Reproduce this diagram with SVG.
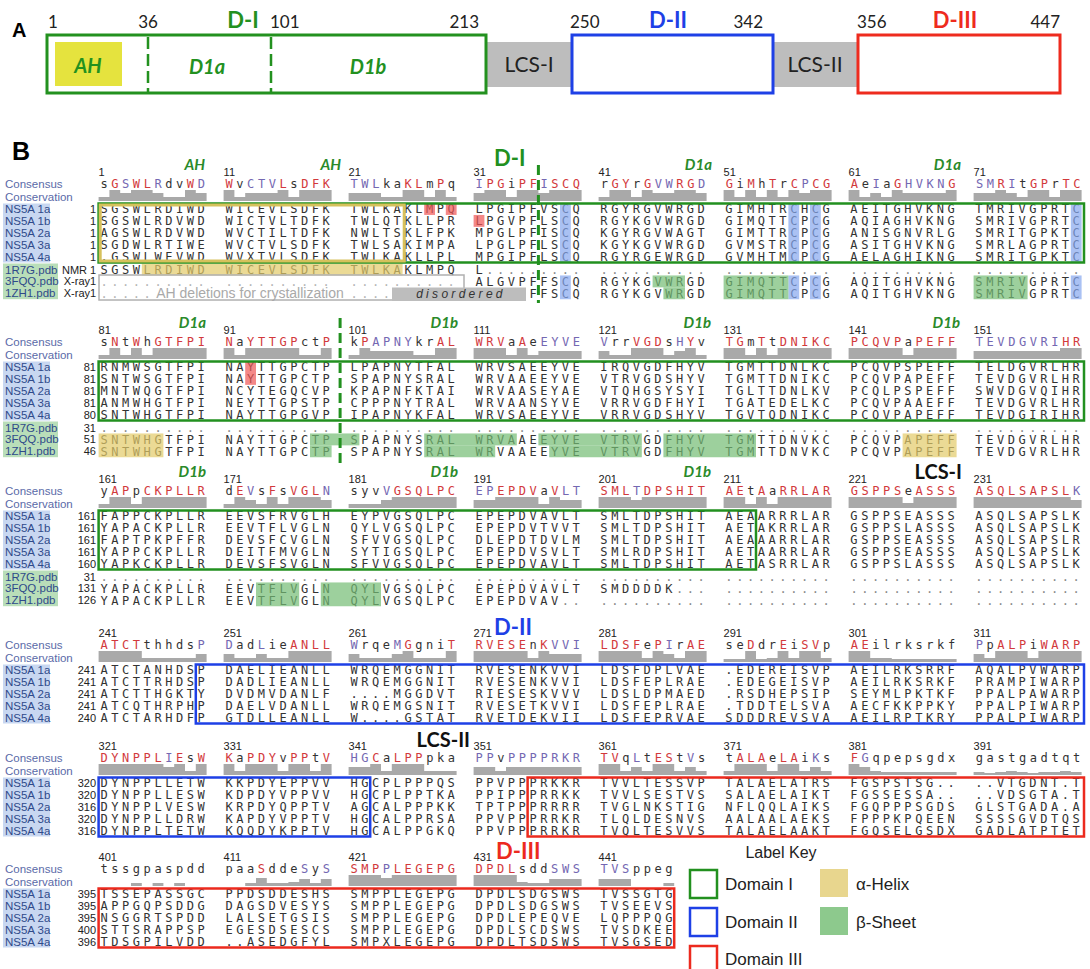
<svg xmlns="http://www.w3.org/2000/svg" width="1090" height="969" viewBox="0 0 1090 969">
<defs><style>
.s{font-family:"DejaVu Sans Mono","Liberation Mono",monospace;font-size:12px;letter-spacing:3.575px;word-spacing:6.2px;fill:#333}
.r{fill:#d2393c}.p{fill:#7468b2}.d{fill:#8a8a8a}.dl{fill:#b5b5b5}
.lab{font-family:"Liberation Sans",Arial,sans-serif;font-size:11.5px;fill:#2f4a8a}
.cl{font-family:"Liberation Sans",Arial,sans-serif;font-size:11.5px;fill:#5a6aa8}
.n{font-family:"Liberation Sans",Arial,sans-serif;font-size:11px;fill:#222}
.rn{font-family:"Liberation Sans",Arial,sans-serif;font-size:11px;fill:#222;text-anchor:end}
.bar{fill:#a9a9a9}
.lb{fill:#c8d7f1}.pg{fill:#b9deb9}
.it{font-family:Lato,"Liberation Sans",sans-serif;font-weight:bold;font-style:italic;font-size:15px;fill:#2a8a2a;text-anchor:end}
.big{font-family:Lato,"Liberation Sans",sans-serif;font-weight:bold;font-size:22px}
.lcs{font-family:Lato,"Liberation Sans",sans-serif;font-weight:bold;font-size:20px;fill:#111;text-anchor:end}
.hy{fill:#e2ca68;opacity:.7}.hg{fill:#74bc74;opacity:.7}.hb{fill:#86a6ee;opacity:.7}.hr{fill:#f05555;opacity:.7}
.bg{fill:none;stroke:#22901f;stroke-width:2.5}.bb{fill:none;stroke:#1e40e6;stroke-width:2.5}.br{fill:none;stroke:#ec2a1e;stroke-width:2.5}
.dash{stroke:#22901f;stroke-width:3;stroke-dasharray:10 5}
.pa{font-family:Lato,"Liberation Sans",sans-serif}
.key{font-family:"Liberation Sans",Arial,sans-serif;fill:#222}
</style></defs>
<rect width="1090" height="969" fill="#fff"/>

<g id="panelA" class="pa">
<text x="12" y="37" font-family="Liberation Sans" font-weight="bold" font-size="20">A</text>
<rect x="487" y="42" width="85" height="45" fill="#bdbdbd"/>
<rect x="773" y="42" width="85" height="45" fill="#bdbdbd"/>
<rect x="55" y="42" width="67" height="44" fill="#e5e33e"/>
<rect x="47" y="35" width="439" height="58" fill="none" stroke="#23911f" stroke-width="3"/>
<rect x="572" y="35" width="201" height="58" fill="none" stroke="#1e40e6" stroke-width="3"/>
<rect x="858" y="35" width="202" height="58" fill="none" stroke="#ee2b1e" stroke-width="3"/>
<line x1="148" y1="37" x2="148" y2="92" stroke="#23911f" stroke-width="2.5" stroke-dasharray="12 5"/>
<line x1="271" y1="37" x2="271" y2="92" stroke="#23911f" stroke-width="2.5" stroke-dasharray="12 5"/>
<g font-size="17" fill="#222">
<text x="48" y="28">1</text><text x="148" y="28" text-anchor="middle">36</text><text x="270" y="28">101</text><text x="479" y="28" text-anchor="end">213</text><text x="570" y="28">250</text><text x="763" y="28" text-anchor="end">342</text><text x="857" y="28">356</text><text x="1060" y="28" text-anchor="end">447</text>
</g>
<g font-weight="bold" font-size="22" text-anchor="middle">
<text x="243" y="28" fill="#23911f">D-I</text><text x="668" y="28" fill="#1e40e6">D-II</text><text x="955" y="28" fill="#ee2b1e">D-III</text>
</g>
<g font-weight="bold" font-style="italic" font-size="20" fill="#23911f" text-anchor="middle">
<text x="88" y="73">AH</text><text x="207" y="74">D1a</text><text x="368" y="74">D1b</text>
</g>
<g font-size="21" fill="#222" text-anchor="middle">
<text x="529" y="72">LCS-I</text><text x="815" y="72">LCS-II</text>
</g>
</g>

<text x="12" y="160" font-family="Liberation Sans" font-weight="bold" font-size="25">B</text>

<g id="block1" transform="translate(0,184)">
<text class="n" y="-8"><tspan x="98.6">1</tspan><tspan x="223.6">11</tspan><tspan x="348.6">21</tspan><tspan x="473.6">31</tspan><tspan x="598.6">41</tspan><tspan x="723.6">51</tspan><tspan x="848.6">61</tspan><tspan x="973.6">71</tspan></text>
<text class="it" x="205" y="-14">AH</text><text class="it" x="341" y="-14">AH</text><text class="it" x="712" y="-14">D1a</text><text class="it" x="961" y="-14">D1a</text>
<text class="big" x="494" y="-18" fill="#22901f">D-I</text>
<text class="cl" x="5" y="4">Consensus</text><text class="cl" x="5" y="17">Conservation</text>
<text class="s" x="100.4" y="4.3">s<tspan class="r">G</tspan><tspan class="p">S</tspan><tspan class="r">WL</tspan><tspan class="p">R</tspan>dv<tspan class="r">W</tspan><tspan class="p">D</tspan> <tspan class="r">W</tspan>v<tspan class="p">CTV</tspan><tspan class="r">L</tspan>s<tspan class="r">DFK</tspan> <tspan class="p">TWL</tspan>ka<tspan class="r">KL</tspan>m<tspan class="r">P</tspan>q <tspan class="p">I</tspan><tspan class="r">PG</tspan>i<tspan class="r">PF</tspan><tspan class="p">I</tspan><tspan class="r">SCQ</tspan> r<tspan class="r">GY</tspan>r<tspan class="r">G</tspan><tspan class="p">VW</tspan><tspan class="r">RG</tspan><tspan class="p">D</tspan> <tspan class="r">G</tspan>i<tspan class="r">M</tspan>h<tspan class="r">T</tspan>r<tspan class="r">C</tspan><tspan class="p">P</tspan><tspan class="r">CG</tspan> <tspan class="r">A</tspan>e<tspan class="p">I</tspan>a<tspan class="r">G</tspan><tspan class="p">HVKN</tspan><tspan class="r">G</tspan> <tspan class="p">SM</tspan><tspan class="r">R</tspan><tspan class="p">I</tspan>t<tspan class="r">GP</tspan>r<tspan class="r">TC</tspan></text>
<g class="bar" transform="translate(0,17)">
<path transform="translate(98.6) scale(10.8,1)" d="M0 0V-4H1V-11H2V-8H3V-11H4V-11H5V-8H6V-4H7V-4H8V-11H9V-8H10V0Z"/>
<path transform="translate(223.6) scale(10.8,1)" d="M0 0V-11H1V-4H2V-8H3V-8H4V-8H5V-11H6V-4H7V-11H8V-11H9V-11H10V0Z"/>
<path transform="translate(348.6) scale(10.8,1)" d="M0 0V-8H1V-8H2V-8H3V-4H4V-4H5V-11H6V-11H7V-4H8V-11H9V-4H10V0Z"/>
<path transform="translate(473.6) scale(10.8,1)" d="M0 0V-8H1V-11H2V-11H3V-4H4V-11H5V-11H6V-8H7V-11H8V-11H9V-11H10V0Z"/>
<path transform="translate(598.6) scale(10.8,1)" d="M0 0V-4H1V-11H2V-11H3V-4H4V-11H5V-8H6V-8H7V-11H8V-11H9V-8H10V0Z"/>
<path transform="translate(723.6) scale(10.8,1)" d="M0 0V-11H1V-4H2V-11H3V-4H4V-11H5V-4H6V-11H7V-8H8V-11H9V-11H10V0Z"/>
<path transform="translate(848.6) scale(10.8,1)" d="M0 0V-11H1V-4H2V-8H3V-4H4V-11H5V-8H6V-8H7V-8H8V-8H9V-11H10V0Z"/>
<path transform="translate(973.6) scale(10.8,1)" d="M0 0V-8H1V-8H2V-11H3V-8H4V-4H5V-11H6V-11H7V-4H8V-11H9V-11H10V0Z"/>
</g>
<rect class="lb" x="3" y="19.5" width="47" height="59"/><rect class="pg" x="3" y="79.5" width="55" height="35.7"/>
<g class="lab"><text x="5" y="29">NS5A 1a</text><text x="5" y="40.9">NS5A 1b</text><text x="5" y="52.8">NS5A 2a</text><text x="5" y="64.7">NS5A 3a</text><text x="5" y="76.6">NS5A 4a</text><text x="5" y="89.5">1R7G.pdb</text><text x="5" y="101.4">3FQQ.pdb</text><text x="5" y="113.3">1ZH1.pdb</text></g>
<g class="rn"><text x="96" y="29">1</text><text x="96" y="40.9">1</text><text x="96" y="52.8">1</text><text x="96" y="64.7">1</text><text x="96" y="76.6">1</text><text x="96" y="89.5">1</text><text x="96" y="101.4">1</text><text x="96" y="113.3">1</text><text x="87" y="89.5">NMR</text><text x="90" y="101.4">X-ray</text><text x="90" y="113.3">X-ray</text></g>
<text class="s" x="100.4" y="29.3">SGSWLRDIWD WICEVLSDFK TWLKAKLMPQ LPGIPFVSCQ RGYRGVWRGD GIMHTRCHCG AEITGHVKNG TMRIVGPRTC</text>
<text class="s" x="100.4" y="41.2">SGSWLRDVWD WICTVLTDFK TWLQTKLLPR LPGVPFLSCQ RGYKGVWRGD GIMQTTCPCG AQIAGHVKNG SMRIVGPRTC</text>
<text class="s" x="100.4" y="53.1">AGSWLRDVWD WVCTILTDFK NWLTSKLFPK MPGLPFISCQ KGYRGVWAGT GIMTTRCPCG ANISGNVRLG SMRITGPKTC</text>
<text class="s" x="100.4" y="65">SGDWLRTIWE WVCTVLSDFK TWLSAKIMPA LPGLPFLSCQ KGYKGVWRGD GVMSTRCPCG ASITGHVKNG SMRLAGPRTC</text>
<text class="s" x="100.4" y="76.9">.GSWLWEVWD WVXTVLSDFK TWLKAKLLPL MPGIPFLSCQ RGYRGEWRGD GVMHTMCPCG AELAGHIKNG SMRITGPKTC</text>
<text class="s" x="100.4" y="89.8">SGSWLRDIWD WICEVLSDFK TWLKAKLMPQ L<tspan class="d">......... .......... .......... .......... ..........</tspan></text>
<text class="s" x="100.4" y="101.7"><tspan class="dl">.......... .......... ..........</tspan> ALGVPFFSCQ RGYKGVWRGD GIMQTTCPCG AQITGHVKNG SMRIVGPRTC</text>
<text class="s dl" x="100.4" y="113.6">.....</text><text class="s dl" x="350.4" y="113.6">....</text>
<text class="s" x="529.4" y="113.6">FFSCQ RGYKGVWRGD GIMQTTCPCG AQITGHVKNG SMRIVGPRTC</text>
<g id="hl1">
<rect class="hr" x="424.2" y="19.05" width="10.8" height="11.9"/><rect class="hr" x="445.8" y="19.05" width="10.8" height="11.9"/><rect class="hr" x="473.6" y="30.95" width="10.8" height="11.9"/>
<rect class="hb" x="560" y="19.05" width="10.8" height="59.5"/><rect class="hb" x="788.4" y="19.05" width="10.8" height="59.5"/><rect class="hb" x="810" y="19.05" width="10.8" height="59.5"/><rect class="hb" x="1070.8" y="19.05" width="10.8" height="59.5"/>
<rect class="hb" x="560" y="91.45" width="10.8" height="23.8"/><rect class="hb" x="788.4" y="91.45" width="10.8" height="23.8"/><rect class="hb" x="810" y="91.45" width="10.8" height="23.8"/><rect class="hb" x="1070.8" y="91.45" width="10.8" height="23.8"/>
<rect class="hy" x="141.8" y="79.55" width="260.8" height="11.9"/>
<rect class="hg" x="652.6" y="91.45" width="32.4" height="11.9"/><rect class="hg" x="663.4" y="103.35" width="21.6" height="11.9"/>
<rect class="hg" x="723.6" y="91.45" width="64.8" height="23.8"/><rect class="hg" x="973.6" y="91.45" width="54" height="23.8"/>
</g>
<rect x="99" y="91" width="365" height="25" fill="none" stroke="#b0b0b0" stroke-width="1.5"/>
<text x="250" y="114" text-anchor="middle" font-family="Liberation Sans" font-size="14" fill="#a9a9a9">AH deletions for crystallization</text>
<rect x="392" y="103.5" width="134" height="13.5" fill="#bdbdbd"/>
<text x="461" y="114" text-anchor="middle" font-family="Liberation Sans" font-style="italic" font-size="12" letter-spacing="3.3" fill="#333">disordered</text>
<rect class="bg" x="98.6" y="19.5" width="985.4" height="59"/>
<rect x="100.2" y="21" width="304" height="56" fill="none" stroke="#d6c15c" stroke-width="3"/>
<line class="dash" x1="538.4" y1="-19" x2="538.4" y2="119"/>
</g>

<g id="block2" transform="translate(0,342)">
<text class="n" y="-8"><tspan x="98.6">81</tspan><tspan x="223.6">91</tspan><tspan x="348.6">101</tspan><tspan x="473.6">111</tspan><tspan x="598.6">121</tspan><tspan x="723.6">131</tspan><tspan x="848.6">141</tspan><tspan x="973.6">151</tspan></text>
<text class="it" x="206" y="-14">D1a</text><text class="it" x="458" y="-14">D1b</text><text class="it" x="711" y="-14">D1b</text><text class="it" x="960" y="-14">D1b</text>
<text class="cl" x="5" y="4">Consensus</text><text class="cl" x="5" y="17">Conservation</text>
<text class="s" x="100.4" y="4.3">s<tspan class="r">N</tspan>t<tspan class="r">W</tspan>h<tspan class="r">GTFPI</tspan> <tspan class="r">N</tspan>a<tspan class="r">YTTGP</tspan>ct<tspan class="r">P</tspan> k<tspan class="r">P</tspan><tspan class="p">APNY</tspan>kr<tspan class="r">AL</tspan> <tspan class="r">WRV</tspan>a<tspan class="r">A</tspan>e<tspan class="p">EYVE</tspan> <tspan class="p">V</tspan>rr<tspan class="r">VGD</tspan>s<tspan class="p">H</tspan><tspan class="r">Y</tspan>v <tspan class="r">TG</tspan>m<tspan class="r">T</tspan>t<tspan class="r">DNIKC</tspan> <tspan class="r">PCQVP</tspan>a<tspan class="r">PEFF</tspan> <tspan class="p">TEVDGVRI</tspan><tspan class="r">HR</tspan></text>
<g class="bar" transform="translate(0,17)">
<path transform="translate(98.6) scale(10.8,1)" d="M0 0V-4H1V-11H2V-4H3V-11H4V-4H5V-11H10V0Z"/>
<path transform="translate(223.6) scale(10.8,1)" d="M0 0V-11H1V-4H2V-11H7V-4H9V-11H10V0Z"/>
<path transform="translate(348.6) scale(10.8,1)" d="M0 0V-4H1V-11H2V-8H6V-4H8V-11H10V0Z"/>
<path transform="translate(473.6) scale(10.8,1)" d="M0 0V-11H3V-4H4V-11H5V-4H6V-8H10V0Z"/>
<path transform="translate(598.6) scale(10.8,1)" d="M0 0V-8H1V-4H3V-11H6V-4H7V-8H8V-11H9V-4H10V0Z"/>
<path transform="translate(723.6) scale(10.8,1)" d="M0 0V-11H2V-4H3V-11H4V-4H5V-11H10V0Z"/>
<path transform="translate(848.6) scale(10.8,1)" d="M0 0V-11H5V-4H6V-11H10V0Z"/>
<path transform="translate(973.6) scale(10.8,1)" d="M0 0V-8H8V-11H10V0Z"/>
</g>
<rect class="lb" x="3" y="19.5" width="47" height="59"/><rect class="pg" x="3" y="79.5" width="55" height="35.7"/>
<g class="lab"><text x="5" y="29">NS5A 1a</text><text x="5" y="40.9">NS5A 1b</text><text x="5" y="52.8">NS5A 2a</text><text x="5" y="64.7">NS5A 3a</text><text x="5" y="76.6">NS5A 4a</text><text x="5" y="89.5">1R7G.pdb</text><text x="5" y="101.4">3FQQ.pdb</text><text x="5" y="113.3">1ZH1.pdb</text></g>
<g class="rn"><text x="96" y="29">81</text><text x="96" y="40.9">81</text><text x="96" y="52.8">81</text><text x="96" y="64.7">81</text><text x="96" y="76.6">80</text><text x="96" y="89.5">31</text><text x="96" y="101.4">51</text><text x="96" y="113.3">46</text></g>
<text class="s" x="100.4" y="29.3">RNMWSGTFPI NAYTTGPCTP LPAPNYTFAL WRVSAEEYVE IRQVGDFHYV TGMTTDNLKC PCQVPSPEFF TELDGVRLHR</text>
<text class="s" x="100.4" y="41.2">SNTWSGTFPI NAYTTGPCTP SPAPNYSRAL WRVAAEEYVE VTRVGDSHYV TGMTTDNIKC PCQVPAPEFF TEVDGVRLHR</text>
<text class="s" x="100.4" y="53.1">MNTWQGTFPI NCYTEGQCVP KPAPNFKTAI WRVAASEYAE VTQHGSYSYI TGLTTDNLKV PCQLPSPEFF SWVDGVQIHR</text>
<text class="s" x="100.4" y="65">ANMWHGTFPI NEYTTGPSTP CPPPNYTRAL WRVAANSYVE VRRVGDFHYI TGATEDELKC PCQVPAAEFF TEVDGVRLHR</text>
<text class="s" x="100.4" y="76.9">SNTWHGTFPI NAYTTGPGVP IPAPNYKFAL WRVSAEEYVE VRRVGDSHYV TGVTQDNIKC PCQVPAPEFF TEVDGIRIHR</text>
<text class="s d" x="100.4" y="89.8">.......... .......... .......... .......... .......... .......... .......... ..........</text>
<text class="s" x="100.4" y="101.7">SNTWHGTFPI NAYTTGPCTP SPAPNYSRAL WRVAAEEYVE VTRVGDFHYV TGMTTDNVKC PCQVPAPEFF TEVDGVRLHR</text>
<text class="s" x="100.4" y="113.6">SNTWHGTFPI NAYTTGPCTP SPAPNYSRAL WRVAAEEYVE VTRVGDFHYV TGMTTDNVKC PCQVPAPEFF TEVDGVRLHR</text>
<g id="hl2">
<rect class="hr" x="245.2" y="19.05" width="10.8" height="23.8"/>
<rect class="hy" x="98.6" y="91.45" width="64.8" height="23.8"/><rect class="hy" x="902.6" y="91.45" width="54" height="23.8"/>
<rect class="hg" x="310" y="91.45" width="49.4" height="11.9"/><rect class="hg" x="424.2" y="91.45" width="92.6" height="11.9"/><rect class="hg" x="538.4" y="91.45" width="103.4" height="11.9"/>
<rect class="hg" x="310" y="103.35" width="21.6" height="11.9"/><rect class="hg" x="424.2" y="103.35" width="71" height="11.9"/><rect class="hg" x="549.2" y="103.35" width="92.6" height="11.9"/>
<rect class="hg" x="663.4" y="91.45" width="92.6" height="23.8"/>
</g>
<rect class="bg" x="98.6" y="19.5" width="985.4" height="59"/>
<line class="dash" x1="340.1" y1="-24" x2="340.1" y2="126"/>
</g>

<g id="block3" transform="translate(0,491)">
<text class="n" y="-8"><tspan x="98.6">161</tspan><tspan x="223.6">171</tspan><tspan x="348.6">181</tspan><tspan x="473.6">191</tspan><tspan x="598.6">201</tspan><tspan x="723.6">211</tspan><tspan x="848.6">221</tspan><tspan x="973.6">231</tspan></text>
<text class="it" x="206" y="-14">D1b</text><text class="it" x="458" y="-14">D1b</text><text class="it" x="711" y="-14">D1b</text>
<text class="lcs" x="962" y="-12">LCS-I</text>
<text class="cl" x="5" y="4">Consensus</text><text class="cl" x="5" y="17">Conservation</text>
<text class="s" x="100.4" y="4.3">y<tspan class="r">AP</tspan>p<tspan class="r">CKPLLR</tspan> d<tspan class="r">E</tspan><tspan class="p">V</tspan>s<tspan class="r">F</tspan>s<tspan class="r">VGL</tspan><tspan class="p">N</tspan> syv<tspan class="p">V</tspan><tspan class="r">GSQLPC</tspan> <tspan class="p">EP</tspan><tspan class="r">EPDV</tspan>a<tspan class="r">V</tspan><tspan class="p">LT</tspan> <tspan class="r">SML</tspan><tspan class="p">T</tspan><tspan class="r">DPSHIT</tspan> <tspan class="r">AE</tspan>t<tspan class="r">A</tspan>a<tspan class="r">RRLAR</tspan> <tspan class="r">GSPPS</tspan>e<tspan class="r">ASSS</tspan> <tspan class="r">ASQLSAPSL</tspan><tspan class="p">K</tspan></text>
<g class="bar" transform="translate(0,17)">
<path transform="translate(98.6) scale(10.8,1)" d="M0 0V-4H1V-11H3V-4H4V-11H10V0Z"/>
<path transform="translate(223.6) scale(10.8,1)" d="M0 0V-4H1V-11H2V-8H3V-4H4V-11H5V-4H6V-11H9V-8H10V0Z"/>
<path transform="translate(348.6) scale(10.8,1)" d="M0 0V-4H3V-8H4V-11H10V0Z"/>
<path transform="translate(473.6) scale(10.8,1)" d="M0 0V-8H2V-11H6V-4H7V-11H8V-8H10V0Z"/>
<path transform="translate(598.6) scale(10.8,1)" d="M0 0V-11H3V-8H4V-11H10V0Z"/>
<path transform="translate(723.6) scale(10.8,1)" d="M0 0V-11H2V-4H3V-11H4V-4H5V-11H10V0Z"/>
<path transform="translate(848.6) scale(10.8,1)" d="M0 0V-11H5V-5H6V-11H10V0Z"/>
<path transform="translate(973.6) scale(10.8,1)" d="M0 0V-11H9V-8H10V0Z"/>
</g>
<rect class="lb" x="3" y="19.5" width="47" height="59"/><rect class="pg" x="3" y="79.5" width="55" height="35.7"/>
<g class="lab"><text x="5" y="29">NS5A 1a</text><text x="5" y="40.9">NS5A 1b</text><text x="5" y="52.8">NS5A 2a</text><text x="5" y="64.7">NS5A 3a</text><text x="5" y="76.6">NS5A 4a</text><text x="5" y="89.5">1R7G.pdb</text><text x="5" y="101.4">3FQQ.pdb</text><text x="5" y="113.3">1ZH1.pdb</text></g>
<g class="rn"><text x="96" y="29">161</text><text x="96" y="40.9">161</text><text x="96" y="52.8">161</text><text x="96" y="64.7">161</text><text x="96" y="76.6">160</text><text x="96" y="89.5">31</text><text x="96" y="101.4">131</text><text x="96" y="113.3">126</text></g>
<text class="s" x="100.4" y="29.3">FAPPCKPLLR EEVSFRVGLH EYPVGSQLPC EPEPDVAVLT SMLTDPSHIT AEAARRRLAR GSPPSEASSS ASQLSAPSLK</text>
<text class="s" x="100.4" y="41.2">YAPACKPLLR EEVTFLVGLN QYLVGSQLPC EPEPDVTVVT SMLTDPSHIT AETAKRRLAR GSPPSLASSS ASQLSAPSLK</text>
<text class="s" x="100.4" y="53.1">FAPTPKPFFR DEVSFCVGLN SFVVGSQLPC DLEPDTDVLM SMLTDPSHIT AEAAARRLAR GSPPSEASSS ASQLSAPSLR</text>
<text class="s" x="100.4" y="65">YAPPCKPLLR DEITFMVGLN SYTIGSQLPC EPEPDVSVLT SMLRDPSHIT AETAARRLAR GSPPSEASSS ASQLSAPSLK</text>
<text class="s" x="100.4" y="76.9">YAPKCKPLLR DEVSFSVGLN SFVVGSQLPC EPEPDVAVLT SMLTDPSHIT AETASRRLAR GSPPSLASSS ASQLSAPSLK</text>
<text class="s d" x="100.4" y="89.8">.......... .......... .......... .......... .......... .......... .......... ..........</text>
<text class="s" x="100.4" y="101.7">YAPACKPLLR EEVTFLVGLN QYLVGSQLPC EPEPDVAVLT SMDDDDK<tspan class="d">... .......... .......... ..........</tspan></text>
<text class="s" x="100.4" y="113.6">YAPACKPLLR EEVTFLVGLN QYLVGSQLPC EPEPDVAV<tspan class="d">.. .......... .......... .......... ..........</tspan></text>
<g id="hl3"><rect class="hg" x="256" y="91.45" width="43.2" height="23.8"/><rect class="hg" x="320.8" y="91.45" width="60.2" height="23.8"/></g>
<rect class="bg" x="98.6" y="19.5" width="657.4" height="59"/>
</g>

<g id="block4" transform="translate(0,645)">
<text class="n" y="-8"><tspan x="98.6">241</tspan><tspan x="223.6">251</tspan><tspan x="348.6">261</tspan><tspan x="473.6">271</tspan><tspan x="598.6">281</tspan><tspan x="723.6">291</tspan><tspan x="848.6">301</tspan><tspan x="973.6">311</tspan></text>
<text class="big" x="494" y="-10" fill="#1e40e6">D-II</text>
<text class="cl" x="5" y="4">Consensus</text><text class="cl" x="5" y="17">Conservation</text>
<text class="s" x="100.4" y="4.3"><tspan class="r">ATCT</tspan>thhds<tspan class="p">P</tspan> <tspan class="p">D</tspan>ad<tspan class="p">L</tspan>ie<tspan class="r">ANLL</tspan> <tspan class="p">W</tspan>rqe<tspan class="p">M</tspan><tspan class="r">G</tspan>gni<tspan class="r">T</tspan> <tspan class="r">RVESE</tspan>n<tspan class="r">K</tspan><tspan class="p">VVI</tspan> <tspan class="r">LDSF</tspan>e<tspan class="r">P</tspan><tspan class="p">I</tspan>r<tspan class="r">AE</tspan> se<tspan class="r">D</tspan>dr<tspan class="r">E</tspan>i<tspan class="r">SV</tspan>p <tspan class="r">AE</tspan>ilrksrkf <tspan class="p">P</tspan>p<tspan class="r">ALP</tspan>i<tspan class="r">WARP</tspan></text>
<g class="bar" transform="translate(0,17)">
<path transform="translate(98.6) scale(10.8,1)" d="M0 0V-11H4V-4H9V-8H10V0Z"/>
<path transform="translate(223.6) scale(10.8,1)" d="M0 0V-8H1V-4H3V-8H4V-4H6V-11H10V0Z"/>
<path transform="translate(348.6) scale(10.8,1)" d="M0 0V-8H1V-4H4V-8H5V-11H6V-4H9V-11H10V0Z"/>
<path transform="translate(473.6) scale(10.8,1)" d="M0 0V-11H5V-4H6V-11H7V-8H10V0Z"/>
<path transform="translate(598.6) scale(10.8,1)" d="M0 0V-11H4V-4H5V-11H6V-8H7V-4H8V-11H10V0Z"/>
<path transform="translate(723.6) scale(10.8,1)" d="M0 0V-3H2V-11H3V-3H4V-4H5V-11H6V-4H7V-11H9V-4H10V0Z"/>
<path transform="translate(848.6) scale(10.8,1)" d="M0 0V-11H2V-4H4V-3H10V0Z"/>
<path transform="translate(973.6) scale(10.8,1)" d="M0 0V-8H1V-4H2V-11H5V-4H6V-11H10V0Z"/>
</g>
<rect class="lb" x="3" y="19.5" width="47" height="59"/>
<g class="lab"><text x="5" y="29">NS5A 1a</text><text x="5" y="40.9">NS5A 1b</text><text x="5" y="52.8">NS5A 2a</text><text x="5" y="64.7">NS5A 3a</text><text x="5" y="76.6">NS5A 4a</text></g>
<g class="rn"><text x="96" y="29">241</text><text x="96" y="40.9">241</text><text x="96" y="52.8">241</text><text x="96" y="64.7">241</text><text x="96" y="76.6">240</text></g>
<text class="s" x="100.4" y="29.3">ATCTANHDSP DAELIEANLL WRQEMGGNIT RVESENKVVI LDSFDPLVAE .EDEREISVP AEILRKSRRF AQALPVWARP</text>
<text class="s" x="100.4" y="41.2">ATCTTRHDSP DADLIEANLL WRQEMGGNIT RVESENKVVI LDSFEPLRAE .EDEGEISVP AEILRKSRKF PRAMPIWARP</text>
<text class="s" x="100.4" y="53.1">ATCTTHGKTY DVDMVDANLF ....MGGDVT RIESESKVVV LDSLDPMAED .RSDHEPSIP SEYMLPKTKF PPALPAWARP</text>
<text class="s" x="100.4" y="65">ATCQTHRPHP DAELVDANLL WRQEMGSNIT RVESETKVVI LDSFEPLRAE .TDDTELSVA AECFKKPPKY PPALPIWARP</text>
<text class="s" x="100.4" y="76.9">ATCTARHDFP GTDLLEANLL W....GSTAT RVETDEKVII LDSFEPRVAE SDDDREVSVA AEILRPTKRY PPALPIWARP</text>
<rect class="bb" x="195.8" y="19.5" width="888.2" height="59"/>
</g>

<g id="block5" transform="translate(0,758)">
<text class="n" y="-8"><tspan x="98.6">321</tspan><tspan x="223.6">331</tspan><tspan x="348.6">341</tspan><tspan x="473.6">351</tspan><tspan x="598.6">361</tspan><tspan x="723.6">371</tspan><tspan x="848.6">381</tspan><tspan x="973.6">391</tspan></text>
<text class="lcs" x="470" y="-11">LCS-II</text>
<text class="cl" x="5" y="4">Consensus</text><text class="cl" x="5" y="17">Conservation</text>
<text class="s" x="100.4" y="4.3"><tspan class="r">DYNPPL</tspan><tspan class="p">I</tspan><tspan class="r">E</tspan>s<tspan class="r">W</tspan> <tspan class="r">K</tspan>a<tspan class="r">PDY</tspan>v<tspan class="r">PP</tspan>t<tspan class="r">V</tspan> <tspan class="p">HG</tspan><tspan class="r">C</tspan>a<tspan class="r">LPP</tspan>pka <tspan class="p">PP</tspan>v<tspan class="p">PPPPRKR</tspan> <tspan class="r">TV</tspan>q<tspan class="p">L</tspan>t<tspan class="r">ES</tspan>t<tspan class="p">V</tspan>s t<tspan class="r">ALA</tspan>e<tspan class="r">LA</tspan>i<tspan class="p">K</tspan>s <tspan class="r">F</tspan><tspan class="p">G</tspan>qpepsgdx gastgadtqt</text>
<g class="bar" transform="translate(0,17)">
<path transform="translate(98.6) scale(10.8,1)" d="M0 0V-11H6V-8H7V-11H8V-4H9V-11H10V0Z"/>
<path transform="translate(223.6) scale(10.8,1)" d="M0 0V-11H1V-4H2V-11H5V-4H6V-11H8V-4H9V-11H10V0Z"/>
<path transform="translate(348.6) scale(10.8,1)" d="M0 0V-8H2V-11H3V-4H4V-11H7V-4H10V0Z"/>
<path transform="translate(473.6) scale(10.8,1)" d="M0 0V-8H2V-4H3V-8H10V0Z"/>
<path transform="translate(598.6) scale(10.8,1)" d="M0 0V-11H2V-4H3V-8H4V-4H5V-11H7V-4H8V-8H9V-4H10V0Z"/>
<path transform="translate(723.6) scale(10.8,1)" d="M0 0V-4H1V-11H4V-4H5V-11H7V-4H8V-8H9V-4H10V0Z"/>
<path transform="translate(848.6) scale(10.8,1)" d="M0 0V-11H1V-8H2V-4H3V-3H10V0Z"/>
<path transform="translate(973.6) scale(10.8,1)" d="M0 0V-3H1V-2H2V-3H3V-4H4V-3H5V-2H6V-3H8V-4H9V-3H10V0Z"/>
</g>
<rect class="lb" x="3" y="19.5" width="47" height="59"/>
<g class="lab"><text x="5" y="29">NS5A 1a</text><text x="5" y="40.9">NS5A 1b</text><text x="5" y="52.8">NS5A 2a</text><text x="5" y="64.7">NS5A 3a</text><text x="5" y="76.6">NS5A 4a</text></g>
<g class="rn"><text x="96" y="29">320</text><text x="96" y="40.9">320</text><text x="96" y="52.8">316</text><text x="96" y="64.7">320</text><text x="96" y="76.6">316</text></g>
<text class="s" x="100.4" y="29.3">DYNPPLLETW KKPDYEPPVV HGCPLPPPQS PPVPPPRKKR TVVLTESSVP TALAELATRS FGSPSTSG.. ..VTGDNT.T</text>
<text class="s" x="100.4" y="41.2">DYNPPLLESW KDPDYVPPVV HGCPLPPTKA PPIPPPRRKK TVVLSESTVS SALAELAIKT FGSSESSA.. ..VDSGTA.T</text>
<text class="s" x="100.4" y="53.1">DYNPPLVESW KRPDYQPPTV AGCALPPPKK TPTPPPRRRR TVGLNKSTIG NFLQQLAIKS FGQPPPSGDS GLSTGADA.A</text>
<text class="s" x="100.4" y="65">DYNPPLLDRW KAPDYVPPTV HGCALPPRSA PPVPPPRRKR TLQLDESNVS AALAALAEKS FPPPKPQEEN SSSSGVDTQS</text>
<text class="s" x="100.4" y="76.9">DYNPPLTETW KQQDYKPPTV HGCALPPGKQ PPVPPPRRKR TVQLTESVVS TALAELAAKT FGQSELGSDX GADLATPTET</text>
<rect class="bb" x="98.6" y="19.5" width="271.6" height="59"/>
<rect class="br" x="527.6" y="19.5" width="556.4" height="59"/>
</g>

<g id="block6" transform="translate(0,869)">
<text class="n" y="-8"><tspan x="98.6">401</tspan><tspan x="223.6">411</tspan><tspan x="348.6">421</tspan><tspan x="473.6">431</tspan><tspan x="598.6">441</tspan></text>
<text class="big" x="496" y="-10" fill="#ec2a1e">D-III</text>
<text class="cl" x="5" y="4">Consensus</text><text class="cl" x="5" y="17">Conservation</text>
<text class="s" x="100.4" y="4.3">tssgpaspdd paa<tspan class="r">S</tspan>dde<tspan class="p">S</tspan>y<tspan class="p">S</tspan> <tspan class="r">SMP</tspan><tspan class="p">P</tspan><tspan class="r">LEGEPG</tspan> <tspan class="r">DPDL</tspan>sdd<tspan class="p">SWS</tspan> <tspan class="p">TVS</tspan>ppeg</text>
<g class="bar" transform="translate(0,17)">
<path transform="translate(98.6) scale(10.8,1)" d="M3 0V-3H4V0H5V-3H6V0H7V-3H8V0Z"/>
<path transform="translate(223.6) scale(10.8,1)" d="M2 0V-3H3V-8H4V-3H6V-4H7V-7H8V-3H9V-7H10V0Z"/>
<path transform="translate(348.6) scale(10.8,1)" d="M0 0V-11H3V-8H4V-11H10V0Z"/>
<path transform="translate(473.6) scale(10.8,1)" d="M0 0V-11H4V-4H5V-3H7V-7H10V0Z"/>
<path transform="translate(598.6) scale(10.8,1)" d="M0 0V-7H3V0H6V-3H7V0Z"/>
</g>
<rect class="lb" x="3" y="19.5" width="47" height="59"/>
<g class="lab"><text x="5" y="29">NS5A 1a</text><text x="5" y="40.9">NS5A 1b</text><text x="5" y="52.8">NS5A 2a</text><text x="5" y="64.7">NS5A 3a</text><text x="5" y="76.6">NS5A 4a</text></g>
<g class="rn"><text x="96" y="29">395</text><text x="96" y="40.9">395</text><text x="96" y="52.8">395</text><text x="96" y="64.7">400</text><text x="96" y="76.6">396</text></g>
<text class="s" x="100.4" y="29.3">TSSEPASSGC PPDSDDESHS SMPPLEGEPG DPDLSDGSWS TVSSGTG</text>
<text class="s" x="100.4" y="41.2">APPGQPSDDG DAGSDVESYS SMPPLEGEPG DPDLSDGSWS TVSEEVS</text>
<text class="s" x="100.4" y="53.1">NSGGRTSPDD LALSETGSIS SMPPLEGEPG DPDLEPEQVE LQPPPQG</text>
<text class="s" x="100.4" y="65">STTSRAPPSP EGESDSESCS SMPPLEGEPG DPDLSCDSWS TVSDKEE</text>
<text class="s" x="100.4" y="76.9">TDSGPILVDD ..ASEDGFYL SMPXLEGEPG DPDLTSDSWS TVSGSED</text>
<rect class="br" x="98.6" y="19.5" width="575.6" height="59"/>
</g>

<g id="key" class="key">
<text x="781" y="858" text-anchor="middle" font-size="16">Label Key</text>
<rect x="690" y="870" width="27" height="28" fill="none" stroke="#22901f" stroke-width="2.5"/>
<rect x="690" y="908" width="27" height="28" fill="none" stroke="#1e40e6" stroke-width="2.5"/>
<rect x="690" y="946" width="27" height="28" fill="none" stroke="#ec2a1e" stroke-width="2.5"/>
<rect x="820" y="869" width="28" height="28" fill="#e8d68e"/>
<rect x="820" y="907" width="28" height="28" fill="#8dc98d"/>
<text x="725" y="890" font-size="17">Domain I</text>
<text x="725" y="928" font-size="17">Domain II</text>
<text x="725" y="965" font-size="17">Domain III</text>
<text x="856" y="890" font-size="17">α-Helix</text>
<text x="856" y="928" font-size="17">β-Sheet</text>
</g>
</svg>
